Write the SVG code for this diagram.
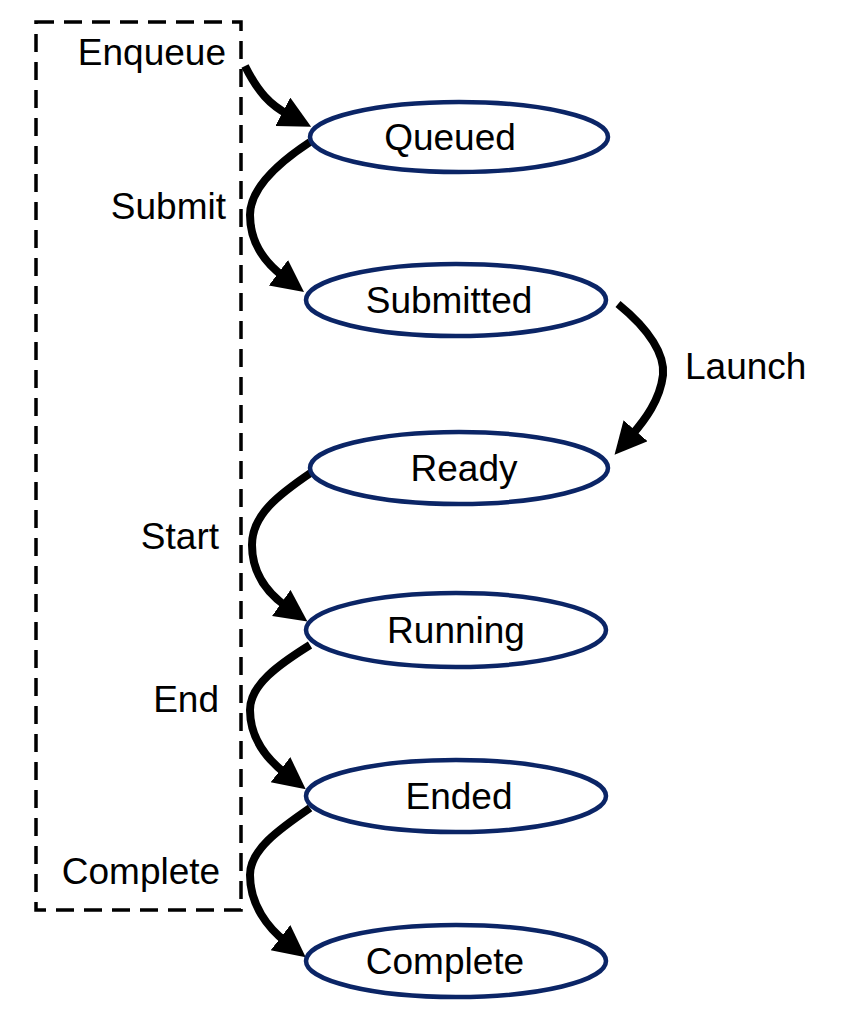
<svg xmlns="http://www.w3.org/2000/svg" width="863" height="1010" viewBox="0 0 863 1010">
<style>
.node ellipse{fill:#fff;stroke:#0b2566;stroke-width:4.5}
text{font-family:"Liberation Sans",Arial,sans-serif;font-size:37px;fill:#000}
.conn path{fill:none;stroke:#000;stroke-width:8}
</style>
<defs>
<marker id="ah" markerUnits="userSpaceOnUse" markerWidth="36" markerHeight="36" refX="7" refY="16" orient="auto">
<path d="M0,0 L32,16 L0,32 z" fill="#000"/>
</marker>
</defs>
<rect x="36" y="22" width="205" height="888" fill="none" stroke="#000" stroke-width="3.5" stroke-dasharray="18 10"/>
<g class="conn" id="connectors">
<path d="M245,66 C258,92 270,105 289,115" marker-end="url(#ah)"/>
<path d="M310,142 C275,165 250,190 250,215 C250,245 268,265 284,277" marker-end="url(#ah)"/>
<path d="M618,304 C650,330 665,355 663,375 C660,400 645,420 631,436" marker-end="url(#ah)"/>
<path d="M312,472 C278,495 252,515 252,545 C252,575 270,595 287,607" marker-end="url(#ah)"/>
<path d="M310,645 C278,665 250,685 250,710 C250,740 268,760 286,774" marker-end="url(#ah)"/>
<path d="M310,808 C278,830 250,850 250,875 C250,905 268,928 286,942" marker-end="url(#ah)"/>
</g>
<g id="labels">
<text x="226" y="65" text-anchor="end">Enqueue</text>
<text x="226" y="219" text-anchor="end">Submit</text>
<text x="685" y="379">Launch</text>
<text x="219" y="549" text-anchor="end">Start</text>
<text x="219" y="712" text-anchor="end">End</text>
<text x="141" y="884" text-anchor="middle">Complete</text>
</g>
<g class="node" id="queued"><ellipse cx="459" cy="137" rx="149" ry="35"/><text x="450" y="150" text-anchor="middle">Queued</text></g>
<g class="node" id="submitted"><ellipse cx="456" cy="300" rx="150" ry="36"/><text x="449" y="313" text-anchor="middle">Submitted</text></g>
<g class="node" id="ready"><ellipse cx="459" cy="468" rx="149" ry="36"/><text x="464" y="481" text-anchor="middle">Ready</text></g>
<g class="node" id="running"><ellipse cx="456" cy="630" rx="150" ry="37"/><text x="456" y="643" text-anchor="middle">Running</text></g>
<g class="node" id="ended"><ellipse cx="456" cy="796" rx="150" ry="36"/><text x="459" y="809" text-anchor="middle">Ended</text></g>
<g class="node" id="complete"><ellipse cx="456" cy="961" rx="150" ry="36"/><text x="445" y="974" text-anchor="middle">Complete</text></g>
</svg>
